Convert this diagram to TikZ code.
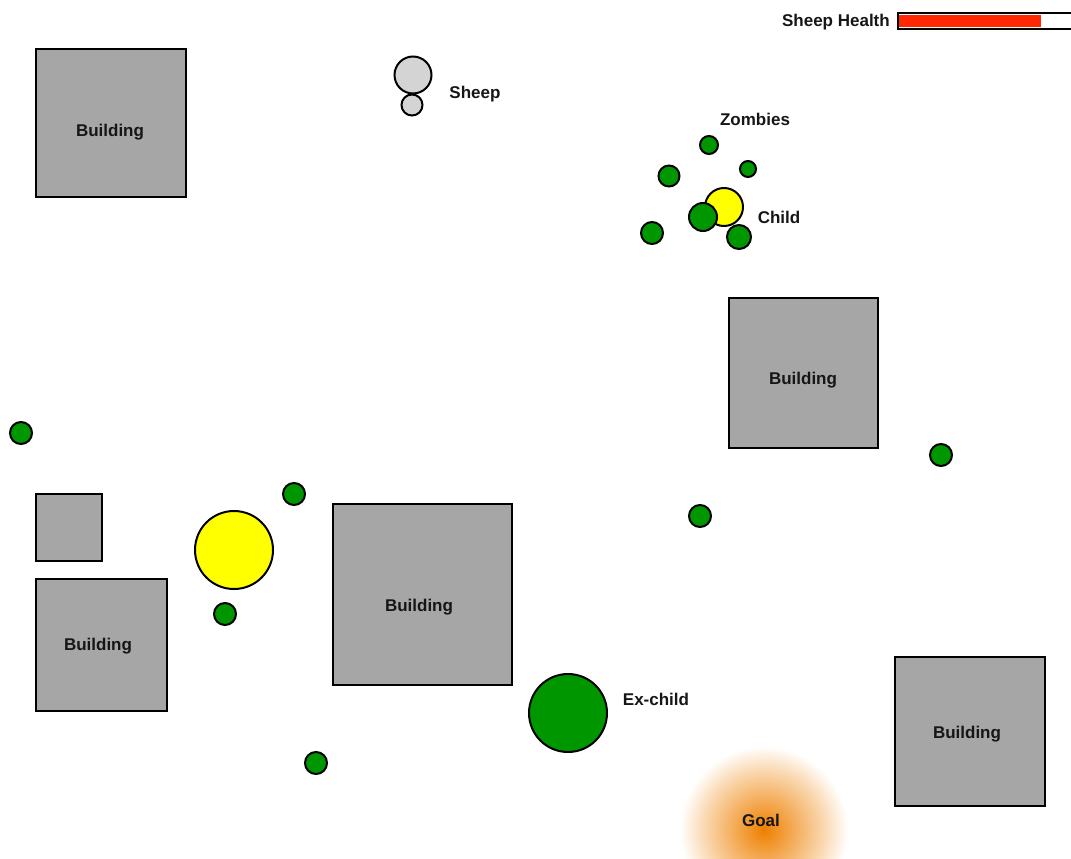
\documentclass[tikz,border=0pt]{standalone}
\usepackage{fontspec}
\setmainfont{Liberation Sans}
\usetikzlibrary{positioning}

\definecolor{goalorange}{RGB}{238,128,0}
\pgfdeclareradialshading{goalglow}{\pgfpoint{0bp}{0bp}}{%
  color(0bp)=(goalorange); color(9bp)=(goalorange!65!white);
  color(18bp)=(goalorange!30!white); color(25bp)=(white); color(50bp)=(white)}

\begin{document}
\begin{tikzpicture}[x=1pt,y=-1pt,
    tag/.style={font=\fontsize{17}{19}\selectfont\bfseries, text=ink, inner sep=0pt},
    building/.style={draw=black, fill=wall, line width=2pt, inner sep=0pt},
    blob/.style={circle, draw=black, line width=2pt, inner sep=0pt}]
  \definecolor{ink}{RGB}{22,22,22}
  \definecolor{wall}{RGB}{166,166,166}
  \definecolor{zombie}{RGB}{0,150,0}
  \definecolor{kid}{RGB}{255,255,0}
  \definecolor{wool}{RGB}{212,212,212}
  \definecolor{hpred}{RGB}{255,40,0}

  \clip (0,0) rectangle (1071,859);

  % goal glow
  \shade[shading=goalglow] (764,830) circle (84);
  \node[tag] (goal) at (761,820) {Goal};

  % buildings
  \foreach \i/\cx/\cy/\w/\h/\lx/\ly in {
    1/111/123/150/148/110/132,
    2/803.5/373/149/150/803/380,
    3/422.5/594.5/179/181/419/607,
    4/101.5/645/131/132/98/646,
    5/970/731.5/150/149/967/734
  } {
    \node[building, minimum width=\w, minimum height=\h] (b\i) at (\cx,\cy) {};
    \node[tag] (b\i-txt) at (\lx,\ly) {Building};
  }
  \node[building, minimum width=66, minimum height=67] (shed) at (69,527.5) {};

  % sheep
  \node[blob, fill=wool, minimum size=37] (sheephead) at (413,75) {};
  \node[blob, fill=wool, minimum size=21] (sheepbody) at (412,105) {};
  \node[tag] (sheep) at (475,94) {Sheep};

  % children
  \node[blob, fill=kid, minimum size=38] (child) at (724,207) {};
  \node[blob, fill=kid, minimum size=78] (bigkid) at (234,550) {};
  \node[blob, fill=zombie, minimum size=78] (exchild) at (568,713) {};

  % zombies
  \foreach \i/\x/\y/\d in {
    1/709/145/18, 2/748/169/16, 3/669/176/21, 4/652/233/22,
    5/703/217/28, 6/739/237/24, 7/21/433/22, 8/294/494/22,
    9/225/614/22, 10/700/516/22, 11/941/455/22, 12/316/763/22
  } {
    \node[blob, fill=zombie, minimum size=\d] (z\i) at (\x,\y) {};
  }

  \node[tag] (zombies) at (755,119) {Zombies};
  \node[tag] (childtxt) at (779,217) {Child};
  \node[tag] (extxt) at (656,699) {Ex-child};

  % health bar
  \node[draw=black, line width=2pt, fill=white, anchor=west, inner sep=0pt,
        minimum width=174, minimum height=16] (healthbar) at (897,21) {};
  \node[fill=hpred, anchor=west, inner sep=0pt,
        minimum width=142, minimum height=12] (healthfill) at (899,21) {};
  \node[tag, anchor=east] (healthtxt) at (890,22) {Sheep Health};
\end{tikzpicture}
\end{document}
